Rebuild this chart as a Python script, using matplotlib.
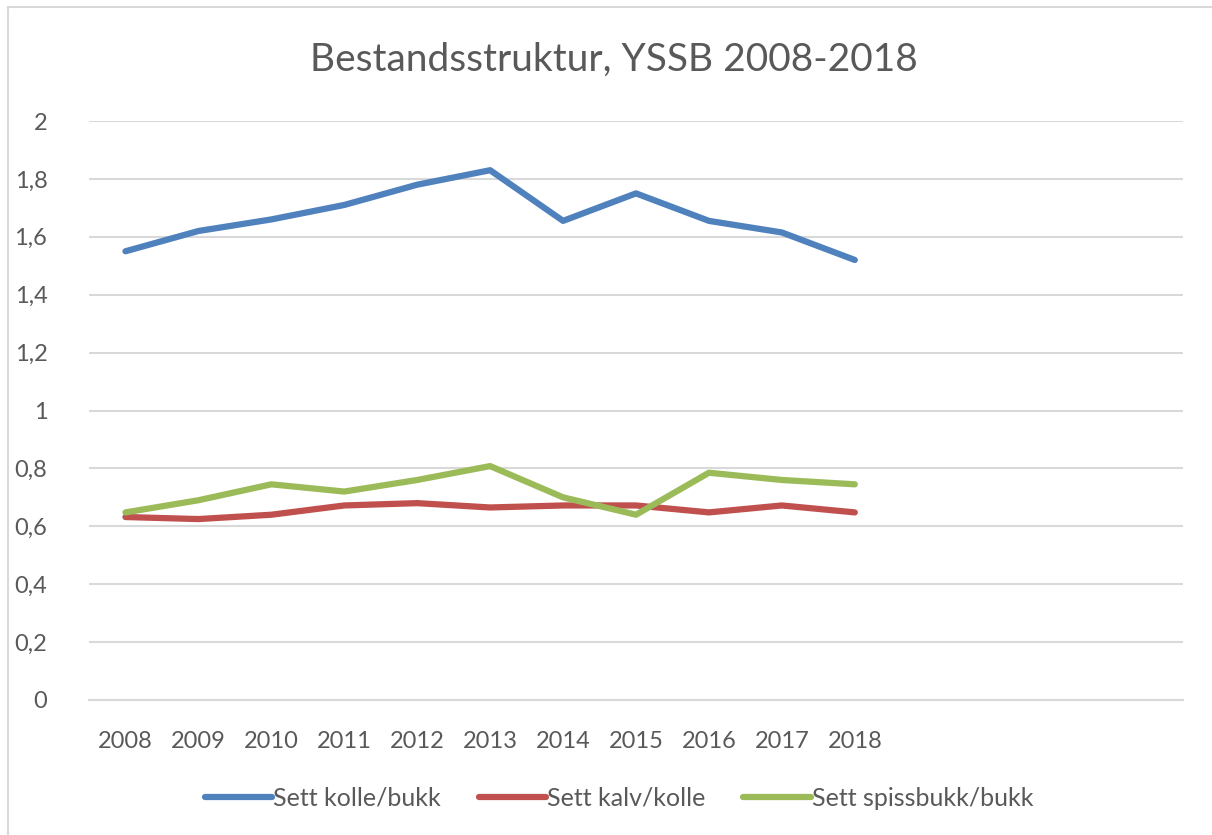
import matplotlib
matplotlib.use("Agg")
import matplotlib.pyplot as plt
from matplotlib.patches import Rectangle

plt.rcParams['font.family'] = ['Lato', 'DejaVu Sans']

years = ['2008', '2009', '2010', '2011', '2012', '2013', '2014', '2015', '2016', '2017', '2018']
extra_categories = ['', '', '', '']
kolle_bukk = [1.55, 1.62, 1.66, 1.71, 1.78, 1.83, 1.655, 1.75, 1.655, 1.615, 1.52]
kalv_kolle = [0.632, 0.625, 0.64, 0.672, 0.68, 0.665, 0.672, 0.672, 0.648, 0.672, 0.648]
spissbukk_bukk = [0.648, 0.69, 0.745, 0.72, 0.76, 0.808, 0.70, 0.64, 0.785, 0.76, 0.745]
series_names = ['Sett kolle/bukk', 'Sett kalv/kolle', 'Sett spissbukk/bukk']
colors = ['#4F81BD', '#C0504D', '#9BBB59']
yticks = [0, 0.2, 0.4, 0.6, 0.8, 1.0, 1.2, 1.4, 1.6, 1.8, 2.0]

W, H = 1212, 835
fig = plt.figure(figsize=(W/100, H/100), dpi=100)
fig.patches.append(Rectangle((8/W, -0.1), 1.2, (H-7)/H + 0.1, transform=fig.transFigure,
                             fill=False, edgecolor='#D9D9D9', linewidth=1.5))

left, right = 89, 1183
top_px, bot_px = 121, 700
ax = fig.add_axes([left/W, (H-bot_px)/H, (right-left)/W, (bot_px-top_px)/H])

cats = years + extra_categories
x = list(range(len(years)))
for vals, name, c in zip([kolle_bukk, kalv_kolle, spissbukk_bukk], series_names, colors):
    ax.plot(x, vals, color=c, linewidth=4.5, label=name, solid_capstyle='round', solid_joinstyle='round')

ax.set_xlim(-0.5, len(cats) - 0.5)
ax.set_ylim(0, 2)
ax.set_xticks(range(len(cats)))
ax.set_xticklabels(cats)
ax.set_yticks(yticks)
ax.set_yticklabels([('%g' % v).replace('.', ',') for v in yticks])
ax.tick_params(axis='both', length=0, labelsize=17, colors='#595959')
ax.tick_params(axis='x', pad=22)
ax.tick_params(axis='y', pad=30)
ax.grid(axis='y', color='#D9D9D9', linewidth=1.5)
ax.set_axisbelow(True)
for s in ax.spines.values():
    s.set_visible(False)
ax.spines['bottom'].set_visible(True)
ax.spines['bottom'].set_color('#D9D9D9')
ax.spines['bottom'].set_linewidth(1.5)

fig.text(614/W, (H-60)/H, 'Bestandsstruktur, YSSB 2008-2018', ha='center', va='center',
         fontsize=28, color='#595959')

leg = fig.legend(loc='center', bbox_to_anchor=(619/W, (H-798)/H), ncol=3, frameon=False,
                 fontsize=18, handlelength=2.7, handletextpad=0.05, columnspacing=1.5,
                 labelcolor='#595959')

fig.savefig('out.png', dpi=100)
